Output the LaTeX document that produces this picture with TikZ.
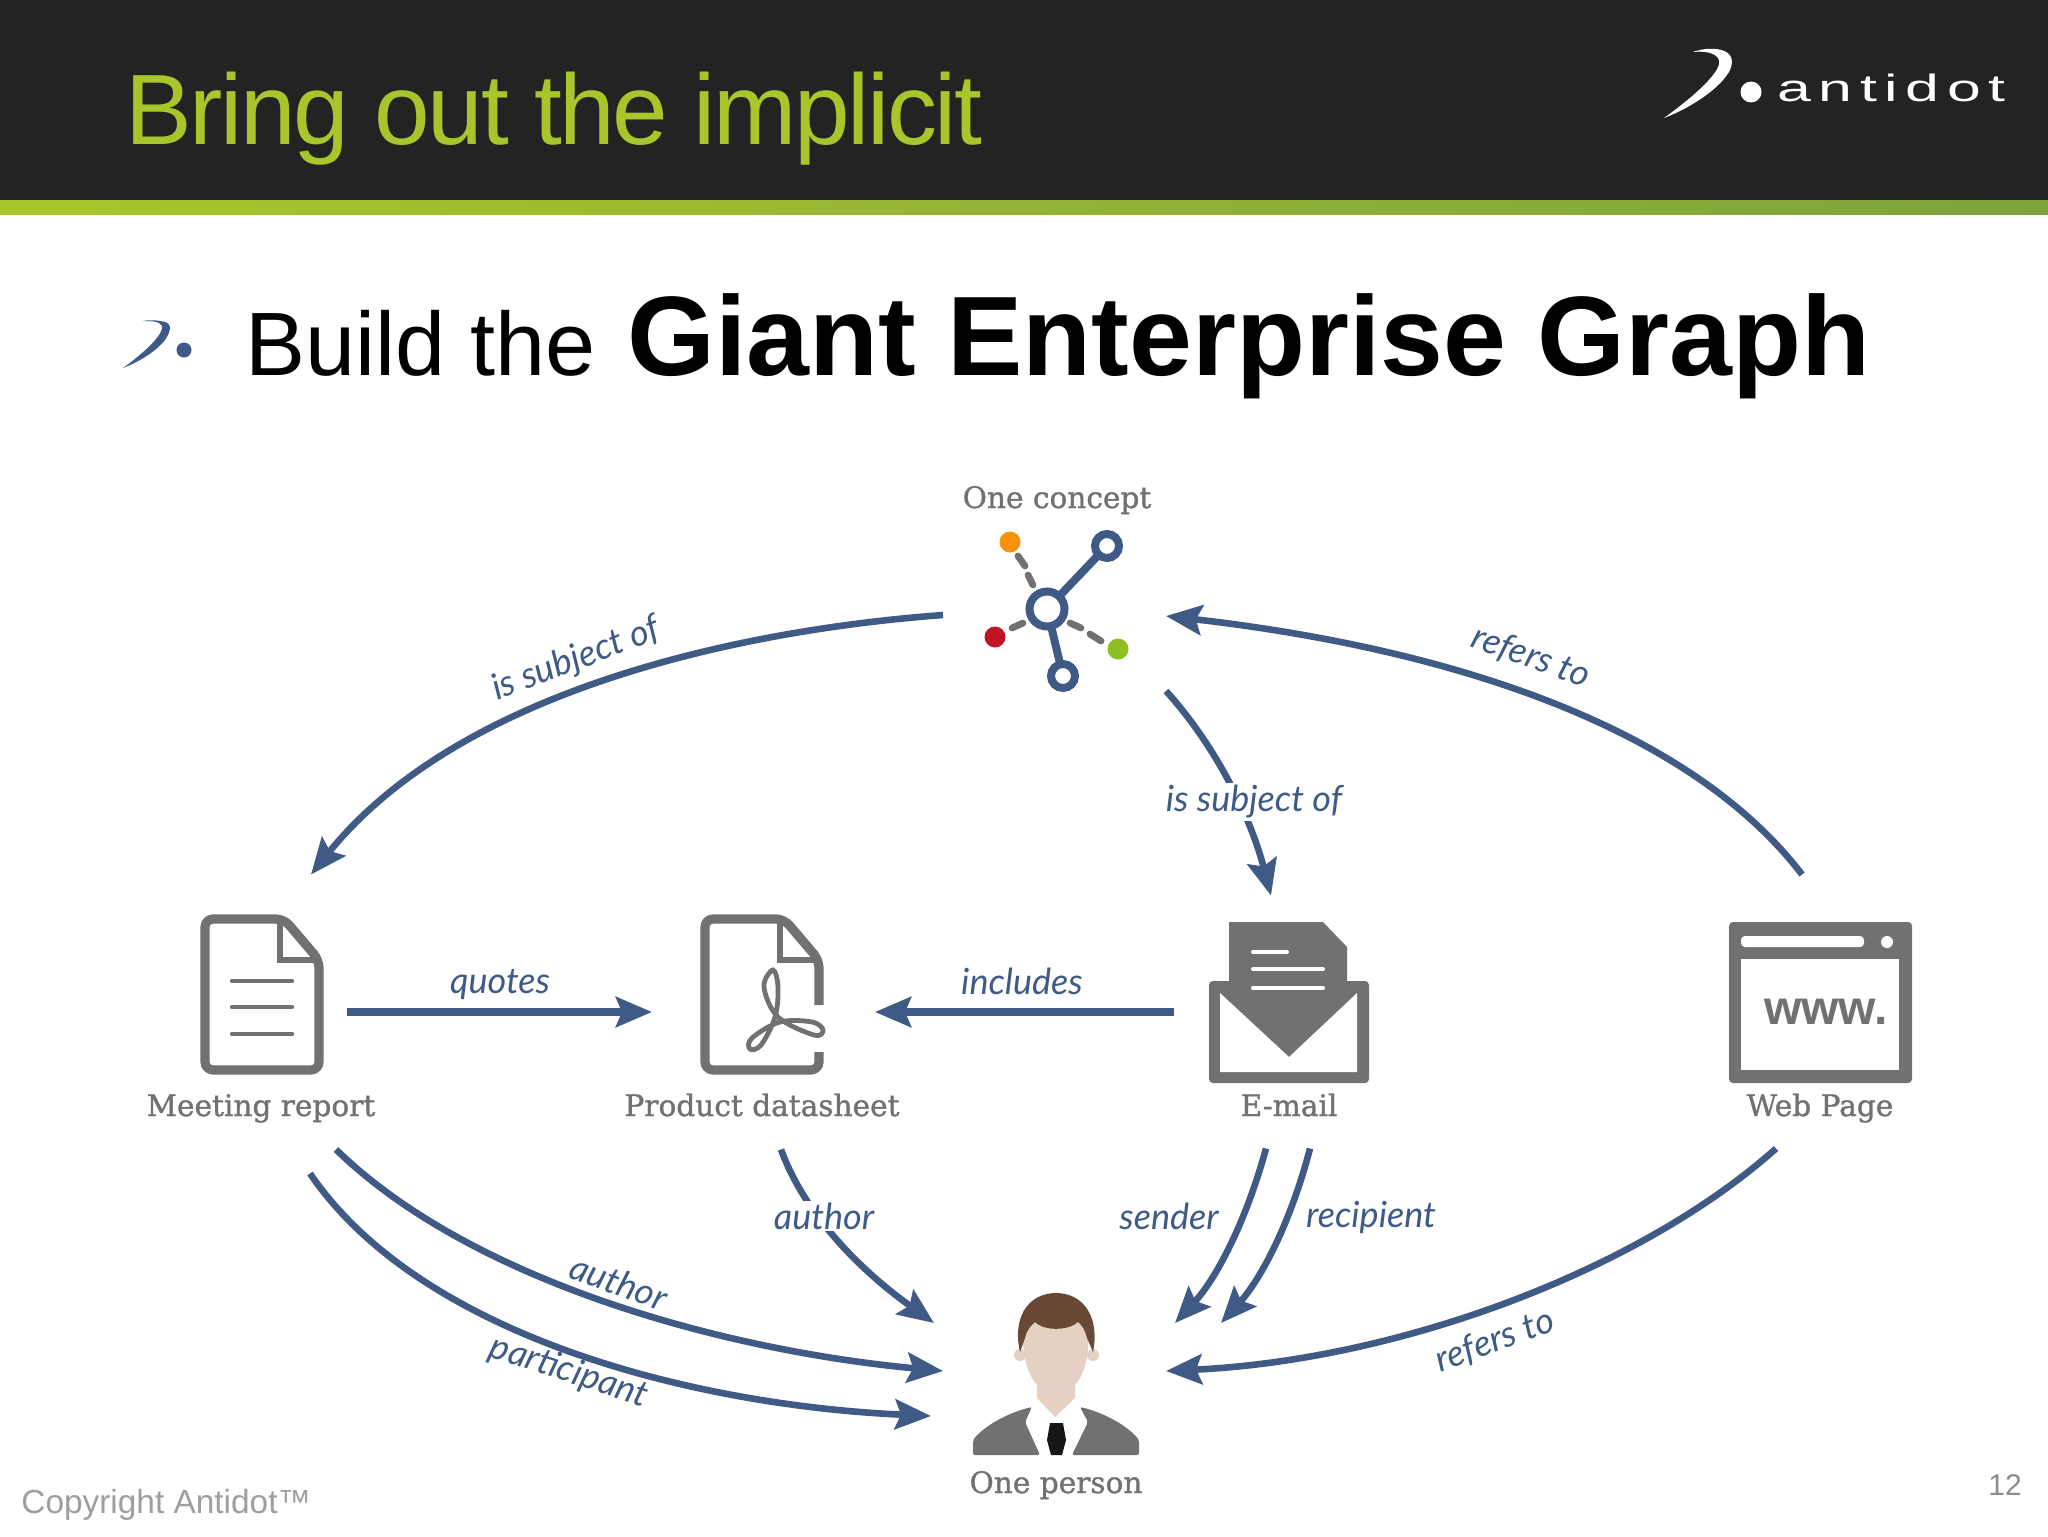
\documentclass[tikz,border=0pt]{standalone}
\usepackage{fontspec}
\usepackage{tikz}
\usetikzlibrary{arrows.meta, positioning, calc}
\setmainfont{Liberation Sans}
\newfontfamily\slabfont[FakeBold=1.1]{DejaVu Serif}
\newfontfamily\edgefont{Lato}
\newfontfamily\logofont[FakeStretch=1.6,LetterSpace=20]{Liberation Sans}
\newfontfamily\titlefont[LetterSpace=-2.4]{Liberation Sans}
\definecolor{linkblue}{HTML}{3F5B85}
\definecolor{icongray}{HTML}{727073}
\definecolor{headdark}{HTML}{232323}
\definecolor{titlegreen}{HTML}{A9C52C}
\definecolor{barend}{HTML}{7DA43B}
\definecolor{skintone}{HTML}{E6D0C3}
\definecolor{hairbrown}{HTML}{6A4836}
\definecolor{dotorange}{HTML}{F7930E}
\definecolor{dotred}{HTML}{BE1424}
\definecolor{dotgreen}{HTML}{8DBE22}
\tikzset{
    iconbox/.style={inner sep=0pt, outer sep=0pt},
    link/.style={draw=linkblue, line width=3.3pt, -{Stealth[length=18pt, width=15pt, inset=3pt]}},
    caption/.style={anchor=base, text=icongray, font=\slabfont\fontsize{14.8}{17}\selectfont},
    edgelabel/.style={text=linkblue, inner sep=1pt, font=\edgefont\itshape\fontsize{18}{21}\selectfont},
    iconline/.style={draw=icongray, line width=4.6pt, line join=round},
    thinline/.style={draw=icongray, line width=2.2pt, line cap=round},
    graphline/.style={draw=linkblue, line width=4pt},
    dashpart/.style={draw=icongray, line width=3.4pt, line cap=round}
}
\begin{document}
\begin{tikzpicture}[x=0.5pt, y=-0.5pt]
    \useasboundingbox (0,0) rectangle (2048,1536);
    \fill[white] (0,0) rectangle (2048,1536);

    % header
    \fill[headdark] (0,0) rectangle (2048,200);
    \shade[left color=titlegreen, right color=barend] (0,200) rectangle (2048,214);
    \node[anchor=base west, inner sep=0pt, text=titlegreen, font=\titlefont\fontsize{50}{58}\selectfont] (title) at (125,144) {Bring out the implicit};

    % logo in the header
    \fill[white] (1664,118) .. controls (1695,106) and (1722,86) .. (1730,70) .. controls (1735,58) and (1730,50) .. (1715,49) .. controls (1708,48) and (1698,50) .. (1693,52) .. controls (1703,51) and (1716,52) .. (1719,60) .. controls (1722,70) and (1700,92) .. (1664,118) -- cycle;
    \fill[white] (1751,92) circle (10.5);
    \node[anchor=base west, inner sep=0pt, text=white, font=\logofont\fontsize{19}{22}\selectfont] (brand) at (1777,102) {antidot};

    % subtitle
    \fill[linkblue] (123,368) .. controls (144,360) and (163,346) .. (168,335) .. controls (172,326) and (170,322) .. (160,321) .. controls (155,320) and (148,320) .. (143,321) .. controls (150,321) and (160,321) .. (162,326) .. controls (164,333) and (148,350) .. (123,368) -- cycle;
    \fill[linkblue] (184,350) circle (7.5);
    \node[anchor=base west, inner sep=0pt, font=\fontsize{45}{54}\selectfont] (build) at (245,375) {Build the};
    \node[anchor=base west, inner sep=0pt, font=\bfseries\fontsize{56.5}{66}\selectfont] (giant) at (627,375) {Giant Enterprise Graph};

    % icon boxes, the links start from these
    \node[iconbox, minimum width=72pt, minimum height=78pt] (concept) at (1057,612) {};
    \node[iconbox, minimum width=61.5pt, minimum height=80.5pt] (report) at (262,995) {};
    \node[iconbox, minimum width=62pt, minimum height=80.5pt] (datasheet) at (762,995) {};
    \node[iconbox, minimum width=80pt, minimum height=80.5pt] (email) at (1289,1002) {};
    \node[iconbox, minimum width=91.5pt, minimum height=80.5pt] (webpage) at (1820,1002) {};
    \node[iconbox, minimum width=83pt, minimum height=81pt] (person) at (1056,1374) {};

    % concept icon
    \draw[graphline] (1047,609) -- (1107,546);
    \draw[graphline] (1047,609) -- (1063,676);
    \draw[graphline, fill=white] (1047,609) circle (17.5);
    \draw[graphline, fill=white] (1107,546) circle (12);
    \draw[graphline, fill=white] (1063,676) circle (12);
    \fill[dotorange] (1010,542) circle (10.5);
    \fill[dotred] (995,637) circle (10.5);
    \fill[dotgreen] (1118,649) circle (10.5);
    \draw[dashpart] (1018,556) -- (1025,566);
    \draw[dashpart] (1028,575) -- (1033,585);
    \draw[dashpart] (1012,628) -- (1023,623);
    \draw[dashpart] (1070,623) -- (1081,628);
    \draw[dashpart] (1090,634) -- (1101,641);

    % meeting report icon
    \draw[iconline, rounded corners=4pt] (205,919) -- (284,919) -- (319,960) -- (319,1070) -- (205,1070) -- cycle;
    \draw[draw=icongray, line width=3pt] (280,922) -- (280,960) -- (316,960);
    \foreach \liney in {981,1007,1034}
        \draw[thinline] (232,\liney) -- (292,\liney);

    % datasheet icon
    \draw[iconline, rounded corners=4pt] (819,1005) -- (819,960) -- (784,919) -- (705,919) -- (705,1070) -- (819,1070) -- (819,1052);
    \draw[draw=icongray, line width=3pt] (780,922) -- (780,960) -- (816,960);
    \draw[draw=icongray, line width=2.4pt] plot[smooth cycle, tension=0.6] coordinates {(773,970) (764,987) (778,1017) (814,1035) (823,1030) (812,1022) (780,1022) (752,1038) (750,1049) (761,1045) (775,1017) (778,987)};

    % e-mail icon
    \fill[icongray, rounded corners=2pt] (1209,981) rectangle (1369,1083);
    \fill[white] (1220,993) -- (1289,1057) -- (1357,993) -- (1357,1072) -- (1220,1072) -- cycle;
    \fill[icongray] (1229,922) -- (1323,922) -- (1347,947) -- (1347,990) -- (1289,1037) -- (1229,990) -- cycle;
    \draw[white, line width=2pt, line cap=round] (1253,952) -- (1287,952);
    \draw[white, line width=2pt, line cap=round] (1253,969) -- (1323,969);
    \draw[white, line width=2pt, line cap=round] (1253,988) -- (1323,988);

    % web page icon
    \fill[icongray, rounded corners=2pt] (1729,922) rectangle (1912,1083);
    \fill[white] (1741,959) rectangle (1899,1070);
    \fill[white, rounded corners=2pt] (1741,936) rectangle (1864,947);
    \fill[white] (1887,942) circle (6);
    \node[anchor=base, inner sep=0pt, text=icongray, font=\bfseries\fontsize{24}{28}\selectfont] (www) at (1826,1024) {www.};

    % person icon
    \fill[skintone] (1020,1355) circle (6);
    \fill[skintone] (1093,1355) circle (6);
    \fill[skintone] (1023,1340) .. controls (1023,1360) and (1030,1378) .. (1037,1385) -- (1037,1398) -- (1055,1417) -- (1075,1398) -- (1075,1385) .. controls (1082,1378) and (1089,1360) .. (1088,1340) -- (1088,1310) -- (1023,1310) -- cycle;
    \fill[hairbrown] (1020,1352) .. controls (1012,1318) and (1028,1293) .. (1056,1293) .. controls (1084,1293) and (1100,1318) .. (1093,1352) -- (1087,1338) .. controls (1085,1330) and (1082,1325) .. (1078,1322) .. controls (1070,1330) and (1045,1332) .. (1035,1322) .. controls (1030,1326) and (1026,1332) .. (1025,1338) -- cycle;
    \fill[icongray, rounded corners=1pt] (973,1455) -- (973,1440) .. controls (985,1425) and (1010,1412) .. (1032,1407) -- (1025,1422) -- (1040,1455) -- cycle;
    \fill[icongray, rounded corners=1pt] (1139,1455) -- (1139,1440) .. controls (1127,1425) and (1102,1412) .. (1080,1407) -- (1088,1422) -- (1072,1455) -- cycle;
    \fill[black!80!icongray] (1050,1423) -- (1063,1423) -- (1066,1440) -- (1062,1455) -- (1051,1455) -- (1047,1440) -- cycle;

    % links
    \draw[link] ([shift={(-42,3)}]concept.west) .. controls (740,630) and (460,690) .. ([shift={(49,-40)}]report.north);
    \draw[link] ([shift={(-18,-47)}]webpage.north) .. controls (1680,715) and (1420,645) .. ([shift={(37,4)}]concept.east);
    \draw[link] ([shift={(37,1)}]concept.south east) .. controls (1215,745) and (1250,815) .. ([shift={(-18,-26)}]email.north);
    \draw[link, line width=3.6pt] ([shift={(23.5,17)}]report.east) -- ([shift={(-48,17)}]datasheet.west);
    \draw[link, line width=3.6pt] ([shift={(-35,10)}]email.west) -- ([shift={(51,17)}]datasheet.east);
    \draw[link] ([shift={(74,74)}]report.south) .. controls (470,1280) and (720,1350) .. ([shift={(-30,-3)}]person.west);
    \draw[link] ([shift={(48,98)}]report.south) .. controls (420,1335) and (690,1405) .. ([shift={(-42,42)}]person.west);
    \draw[link] ([shift={(19,74)}]datasheet.south) .. controls (805,1215) and (860,1270) .. ([shift={(-39,30)}]person.north west);
    \draw[link] ([shift={(-23,66)}]email.south) .. controls (1245,1225) and (1215,1280) .. ([shift={(36,30)}]person.north east);
    \draw[link] ([shift={(21,66)}]email.south) .. controls (1290,1225) and (1260,1280) .. ([shift={(82,30)}]person.north east);
    \draw[link] ([shift={(-44,66)}]webpage.south) .. controls (1640,1270) and (1400,1360) .. ([shift={(27,-3)}]person.east);

    % captions
    \node[caption] (conceptname) at (1057,508) {One concept};
    \node[caption] (reportname) at (261,1116) {Meeting report};
    \node[caption] (datasheetname) at (762,1116) {Product datasheet};
    \node[caption] (emailname) at (1289,1116) {E-mail};
    \node[caption] (webpagename) at (1820,1116) {Web Page};
    \node[caption] (personname) at (1056,1493) {One person};

    % link labels
    \node[edgelabel, rotate=21] (subjectleft) at (576,660) {is subject of};
    \node[edgelabel, rotate=-20] (refersup) at (1531,657) {refers to};
    \node[edgelabel, fill=white] (subjectmid) at (1254,802) {is subject of};
    \node[edgelabel] (quotes) at (500,984) {quotes};
    \node[edgelabel] (includes) at (1022,981) {includes};
    \node[edgelabel, fill=white] (authormid) at (824,1216) {author};
    \node[edgelabel] (sender) at (1169,1216) {sender};
    \node[edgelabel] (recipient) at (1371,1217) {recipient};
    \node[edgelabel, rotate=-20] (authorlow) at (619,1282) {author};
    \node[edgelabel, rotate=-18] (participant) at (569,1372) {participant};
    \node[edgelabel, rotate=20] (referslow) at (1495,1341) {refers to};

    % footer
    \node[anchor=base west, inner sep=0pt, text=black!38, font=\fontsize{16.7}{20}\selectfont] (copyright) at (21,1513) {Copyright Antidot™};
    \node[anchor=base, inner sep=0pt, text=black!45, font=\fontsize{15}{18}\selectfont] (pagenum) at (2005,1495) {12};
\end{tikzpicture}
\end{document}
